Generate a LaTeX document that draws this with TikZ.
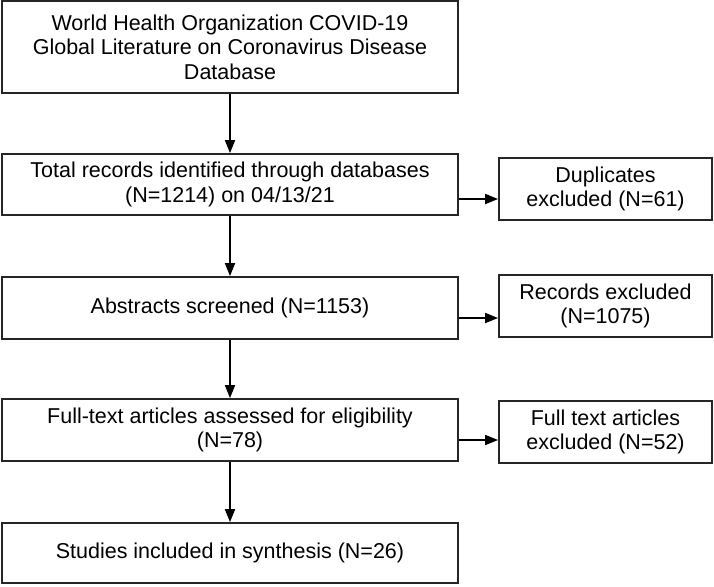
\documentclass[tikz,border=0pt]{standalone}
\usepackage{fontspec}
\setmainfont{Liberation Sans}
\usetikzlibrary{arrows.meta}
\begin{document}
\begin{tikzpicture}[x=0.5pt,y=-0.5pt,
	mainbox/.style={draw=black!85,line width=0.9pt,minimum width=228pt,align=center,inner sep=0pt,font=\fontsize{10.75}{12.3}\selectfont},
	sidebox/.style={draw=black!85,line width=0.9pt,minimum width=106.5pt,minimum height=31pt,align=center,inner sep=0pt,font=\fontsize{10.75}{12.3}\selectfont},
	arr/.style={-{Triangle[length=6.5pt,width=5pt]},line width=0.9pt}]
	\useasboundingbox (0,0) rectangle (714,586);
	% Main column
	\node[mainbox,minimum height=46pt] (db) at (230,47) {World Health Organization COVID-19\\Global Literature on Coronavirus Disease\\Database};
	\node[mainbox,minimum height=30.5pt] (ident) at (230,184.5) {Total records identified through databases\\(N=1214) on 04/13/21};
	\node[mainbox,minimum height=31pt] (screen) at (230,308) {Abstracts screened (N=1153)};
	\node[mainbox,minimum height=31pt] (full) at (230,430) {Full-text articles assessed for eligibility\\(N=78)};
	\node[mainbox,minimum height=30pt] (incl) at (230,553) {Studies included in synthesis (N=26)};
	% Excluded
	\node[sidebox] (dup) at (605.5,189) {Duplicates\\excluded (N=61)};
	\node[sidebox] (rec) at (605.5,306) {Records excluded\\(N=1075)};
	\node[sidebox] (fte) at (605.5,432) {Full text articles\\excluded (N=52)};
	% Arrows
	\draw[arr] (db) -- (ident);
	\draw[arr] (ident) -- (screen);
	\draw[arr] (screen) -- (full);
	\draw[arr] (full) -- (incl);
	\draw[arr] ([yshift=-7.25pt]ident.east) -- ([yshift=-7.25pt]ident.east -| dup.west);
	\draw[arr] ([yshift=-5pt]screen.east) -- ([yshift=-5pt]screen.east -| rec.west);
	\draw[arr] ([yshift=-5pt]full.east) -- ([yshift=-5pt]full.east -| fte.west);
\end{tikzpicture}
\end{document}
